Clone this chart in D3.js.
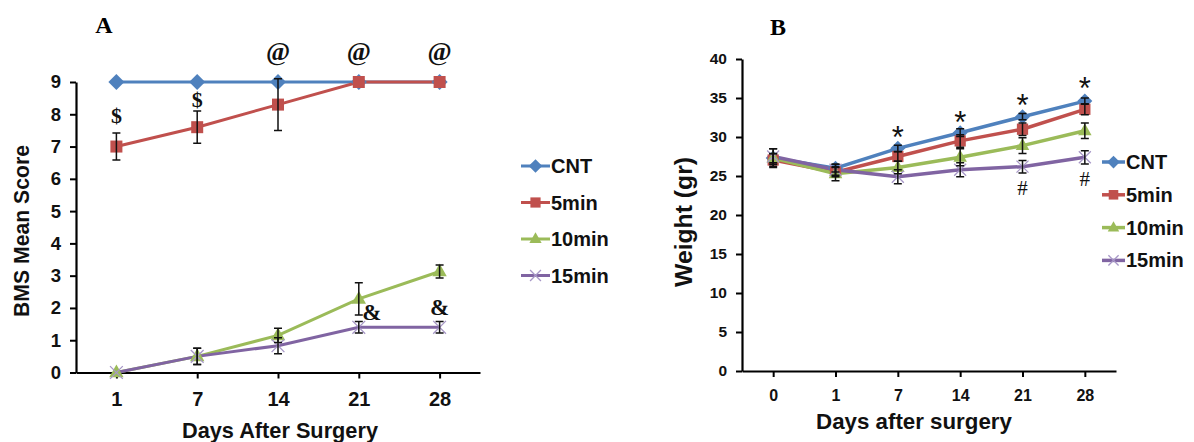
<!DOCTYPE html>
<html>
<head>
<meta charset="utf-8">
<script src="https://cdn.jsdelivr.net/npm/d3@7"></script>
<style>
  body { margin: 0; background: #fff; }
  text { font-family: "Liberation Sans", Arial, sans-serif; }
</style>
</head>
<body>
<div id="chart"></div>
<script>
// ---- data, panel A (BMS score)
const daysA = ["1", "7", "14", "21", "28"];
const bmsCNT = [9, 9, 9, 9, 9];
const bms5 = [7, 7.6, 8.3, 9, 9];
const bms10 = [0, 0.5, 1.15, 2.28, 3.13];
const bms15 = [0, 0.5, 0.83, 1.4, 1.4];
const bmsErrCNT = [0, 0, 0, 0, 0];
const bmsErr5 = [0.42, 0.5, 0.8, 0, 0];
const bmsErr10 = [0, 0.25, 0.22, 0.5, 0.2];
const bmsErr15 = [0, 0.25, 0.25, 0.18, 0.18];
const bmsTicks = [0, 1, 2, 3, 4, 5, 6, 7, 8, 9];

// ---- data, panel B (weight)
const daysB = ["0", "1", "7", "14", "21", "28"];
const wCNT = [27.3, 26, 28.55, 30.55, 32.6, 34.6];
const w5 = [27.05, 25.5, 27.5, 29.5, 31, 33.55];
const w10 = [27.3, 25.3, 26.1, 27.4, 28.9, 30.8];
const w15 = [27.5, 25.8, 24.9, 25.8, 26.2, 27.4];
const wErrCNT = [0.6, 0.5, 0.4, 0.5, 0.4, 0.4];
const wErr5 = [0.8, 0.6, 0.6, 0.8, 0.8, 0.7];
const wErr10 = [1.2, 0.9, 0.8, 1.1, 1.0, 1.0];
const wErr15 = [1.0, 0.7, 0.9, 0.9, 0.8, 0.85];
const wTicks = [0, 5, 10, 15, 20, 25, 30, 35, 40];

const seriesNames = ["CNT", "5min", "10min", "15min"];
const seriesColors = ["#4f81bd", "#c0504d", "#9bbb59", "#8064a2"];
const markerTypes = ["diamond", "square", "triangle", "x"];

// significance marks: [day, value, symbol]
const marksA = [["1", 7.95, "$"], ["7", 8.45, "$"], ["14", 9.95, "@"], ["21", 9.95, "@"], ["28", 9.95, "@"]];
const ampA = [["21", 1.85, "&"], ["28", 2.0, "&"]];
const starsB = [["7", 29.9, "*"], ["14", 31.9, "*"], ["21", 34.0, "*"], ["28", 36.2, "*"]];
const hashB = [["21", 23.5, "#"], ["28", 24.6, "#"]];

const svg = d3.select("#chart").append("svg")
    .attr("width", 1194)
    .attr("height", 442);

// draw one marker shape
function drawMarker(g, type, color, x, y, s) {
    if (type === "diamond") {
        g.append("path").attr("d", `M${x},${y - s}L${x + s},${y}L${x},${y + s}L${x - s},${y}Z`)
            .attr("fill", color);
    } else if (type === "square") {
        g.append("rect").attr("x", x - s * 0.75).attr("y", y - s * 0.75)
            .attr("width", s * 1.5).attr("height", s * 1.5).attr("fill", color);
    } else if (type === "triangle") {
        g.append("path").attr("d", `M${x},${y - s}L${x + s * 0.9},${y + s * 0.6}L${x - s * 0.9},${y + s * 0.6}Z`)
            .attr("fill", color);
    } else {
        g.append("path").attr("d", `M${x - s * 0.8},${y - s * 0.8}L${x + s * 0.8},${y + s * 0.8}M${x - s * 0.8},${y + s * 0.8}L${x + s * 0.8},${y - s * 0.8}`)
            .attr("stroke", "#a797c7").attr("stroke-width", 1.3);
    }
}

// scale a text's font so that it is about w pixels long
function fitText(t, w) {
    const len = t.node().getComputedTextLength();
    const fs = +t.attr("font-size");
    t.attr("font-size", fs * w / len);
}

function panel(opt) {
    const x = d3.scalePoint().domain(opt.days).range(opt.xRange).padding(0.5);
    const y = d3.scaleLinear().domain(opt.yDomain).range(opt.yRange);
    const g = svg.append("g");

    // axes
    const yAxis = g.append("g")
        .attr("transform", `translate(${opt.xRange[0]},0)`)
        .call(d3.axisLeft(y).tickValues(opt.yTicks).tickSize(6).tickSizeOuter(0).tickPadding(opt.yPad));
    const xAxis = g.append("g")
        .attr("transform", `translate(0,${opt.yRange[0]})`)
        .call(d3.axisBottom(x).tickSize(6).tickSizeOuter(0).tickPadding(opt.xPad));
    [yAxis, xAxis].forEach(a => {
        a.select(".domain").attr("stroke", "#000").attr("stroke-width", 2.2);
        a.selectAll(".tick line").attr("stroke", "#000").attr("stroke-width", 2);
        a.selectAll(".tick text").attr("fill", "#111").attr("font-weight", "bold")
            .attr("font-size", opt.tickFont).style("font-family", "'Liberation Sans', Arial, sans-serif");
    });
    yAxis.selectAll(".tick text").attr("font-size", opt.yTickFont);

    const line = d3.line().x(d => x(d[0])).y(d => y(d[1]));

    // lines
    opt.values.forEach((vals, i) => {
        g.append("path")
            .datum(opt.days.map((d, j) => [d, vals[j]]))
            .attr("d", line)
            .attr("fill", "none")
            .attr("stroke", seriesColors[i])
            .attr("stroke-width", opt.lineW);
    });

    // markers
    opt.values.forEach((vals, i) => {
        opt.days.forEach((d, j) => drawMarker(g, markerTypes[i], seriesColors[i], x(d), y(vals[j]), opt.markS));
    });

    // error bars
    opt.values.forEach((vals, i) => {
        opt.days.forEach((d, j) => {
            const e = opt.errs[i][j];
            if (!e) return;
            const cx = x(d), y1 = y(vals[j] + e), y2 = y(vals[j] - e);
            g.append("path")
                .attr("d", `M${cx},${y1}V${y2}M${cx - 4},${y1}H${cx + 4}M${cx - 4},${y2}H${cx + 4}`)
                .attr("stroke", "#111").attr("stroke-width", 1.5).attr("fill", "none");
        });
    });

    // significance marks
    opt.marks.forEach(m => {
        g.append("text")
            .attr("x", x(m[0]) + (m[3] || 0))
            .attr("y", y(m[1]))
            .attr("text-anchor", "middle")
            .attr("dominant-baseline", "central")
            .attr("font-size", m[4])
            .attr("font-weight", m[5])
            .style("font-family", m[6])
            .attr("fill", "#111")
            .text(m[2]);
    });

    // legend
    const lg = g.append("g");
    seriesNames.forEach((name, i) => {
        const ly = opt.legendY + i * opt.legendGap;
        lg.append("line")
            .attr("x1", opt.legendX).attr("x2", opt.legendX + opt.legendLen)
            .attr("y1", ly).attr("y2", ly)
            .attr("stroke", seriesColors[i]).attr("stroke-width", opt.lineW);
        drawMarker(lg, markerTypes[i], seriesColors[i], opt.legendX + opt.legendLen / 2, ly, opt.markS * 0.85);
        lg.append("text")
            .attr("x", opt.legendX + opt.legendLen + 1)
            .attr("y", ly)
            .attr("dominant-baseline", "central")
            .attr("font-size", opt.legendFont)
            .attr("font-weight", "bold")
            .attr("fill", "#111")
            .text(name);
    });

    // axis titles
    const yt = g.append("text")
        .attr("transform", `translate(${opt.yTitleX},${opt.yTitleY}) rotate(-90)`)
        .attr("text-anchor", "middle")
        .attr("dominant-baseline", "central")
        .attr("font-size", 20)
        .attr("font-weight", "bold")
        .attr("fill", "#111")
        .text(opt.yTitle);
    fitText(yt, opt.yTitleW);
    const xt = g.append("text")
        .attr("x", opt.xTitleX)
        .attr("y", opt.xTitleY)
        .attr("text-anchor", "middle")
        .attr("dominant-baseline", "central")
        .attr("font-size", 20)
        .attr("font-weight", "bold")
        .attr("fill", "#111")
        .text(opt.xTitle);
    fitText(xt, opt.xTitleW);

    // panel letter
    g.append("text")
        .attr("x", opt.letterX).attr("y", opt.letterY)
        .attr("text-anchor", "middle")
        .attr("dominant-baseline", "central")
        .attr("font-size", 24).attr("font-weight", "bold")
        .style("font-family", "'Liberation Serif', 'DejaVu Serif', serif")
        .text(opt.letter);
}

const serif = "'Liberation Serif', serif";
const sans = "'Liberation Sans', sans-serif";

panel({
    days: daysA, xRange: [76, 480], yDomain: [0, 9], yRange: [372.5, 82], yTicks: bmsTicks,
    values: [bmsCNT, bms5, bms10, bms15], errs: [bmsErrCNT, bmsErr5, bmsErr10, bmsErr15],
    marks: marksA.map(m => m.concat([0, m[2] === "@" ? 26 : 22, "bold", serif]))
        .concat(ampA.map((m, i) => m.concat([i === 0 ? 13 : 0, 23, "bold", serif]))),
    lineW: 3, markS: 8, tickFont: 20, yTickFont: 18.5, yPad: 9, xPad: 13,
    legendX: 521, legendLen: 29, legendY: 166, legendGap: 36.5, legendFont: 20,
    yTitle: "BMS Mean Score", yTitleX: 21, yTitleY: 231, yTitleW: 172,
    xTitle: "Days After Surgery", xTitleX: 280, xTitleY: 430, xTitleW: 196,
    letter: "A", letterX: 104, letterY: 25
});

panel({
    days: daysB, xRange: [742, 1116], yDomain: [0, 40], yRange: [371, 59], yTicks: wTicks,
    values: [wCNT, w5, w10, w15], errs: [wErrCNT, wErr5, wErr10, wErr15],
    marks: starsB.map(m => m.concat([0, 31, "normal", sans]))
        .concat(hashB.map(m => m.concat([0, 21, "normal", serif]))),
    lineW: 3.5, markS: 7.5, tickFont: 16, yTickFont: 15.5, yPad: 9, xPad: 13,
    legendX: 1102, legendLen: 23, legendY: 162, legendGap: 32.8, legendFont: 20,
    yTitle: "Weight (gr)", yTitleX: 683, yTitleY: 222, yTitleW: 130,
    xTitle: "Days after surgery", xTitleX: 914, xTitleY: 421, xTitleW: 196,
    letter: "B", letterX: 778, letterY: 27
});
</script>
</body>
</html>
